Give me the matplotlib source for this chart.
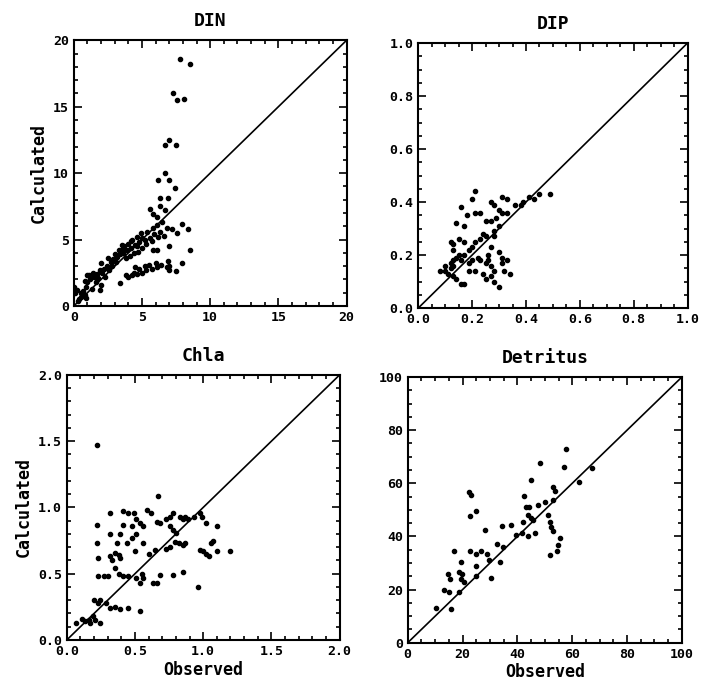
import numpy as np
import matplotlib
matplotlib.use("Agg")
import matplotlib.pyplot as plt
from matplotlib.ticker import MultipleLocator

# DIN: observed / calculated
din_obs = [7.8, 8.5, 7.3, 7.6, 8.1, 7.0, 6.7, 7.5, 6.7, 6.2, 7.0, 7.4, 6.3, 6.9, 5.6, 6.3, 6.7,
           5.8, 6.1, 7.9, 8.4, 7.6, 8.5, 7.0, 5.8, 6.1,
           6.8, 7.2, 6.3, 5.9, 5.6, 5.2, 4.8, 4.5, 4.2, 3.9, 3.6, 3.4, 3.2, 2.9, 2.7, 2.4, 2.2,
           1.9, 1.7, 1.5, 1.2, 1.0, 0.9, 0.7, 0.5, 0.3,
           4.6, 4.9, 4.3, 4.0, 3.7, 4.7, 5.0, 5.4, 5.8, 6.1, 6.5, 3.5, 3.3, 3.0, 2.5, 2.0, 2.1,
           1.8, 1.6, 1.4, 1.1, 2.3, 2.6, 3.8, 4.1, 4.4, 5.3, 5.7, 6.2, 6.6, 2.0, 1.9, 1.3, 0.8,
           1.0, 2.8, 3.1, 4.6, 5.0, 4.2, 3.6,
           3.4, 4.0, 4.3, 4.6, 5.0, 5.3, 5.7, 6.1, 6.4, 6.8, 7.0, 7.5, 7.9, 7.0, 5.5, 4.8, 4.4,
           3.8, 6.9, 6.0, 5.2, 4.5,
           0.0, 0.2, 0.5, 0.8, 0.9, 0.4, 0.1, 0.6]
din_calc = [18.6, 18.2, 16.0, 15.5, 15.6, 12.5, 12.1, 12.1, 10.0, 9.5, 9.5, 8.9, 8.1, 8.1, 7.3, 7.5, 7.2,
            6.9, 6.7, 6.2, 5.8, 5.5, 4.2, 4.5, 4.2, 4.2,
            5.9, 5.8, 5.6, 5.4, 5.1, 5.0, 4.8, 4.6, 4.4, 4.2, 4.0, 3.9, 3.7, 3.5, 3.3, 3.0, 2.8,
            2.7, 2.4, 2.2, 2.0, 1.8, 1.4, 1.1, 0.7, 0.4,
            5.2, 5.5, 5.0, 4.7, 4.5, 4.1, 4.4, 5.6, 5.9, 6.1, 6.3, 4.6, 4.2, 3.9, 3.6, 3.2, 2.5,
            2.1, 1.8, 2.5, 2.3, 2.2, 2.7, 3.6, 3.8, 4.0, 4.7, 4.9, 5.2, 5.3, 1.6, 1.2, 1.3, 1.9,
            2.3, 3.0, 3.3, 4.5, 5.1, 4.9, 4.3,
            1.7, 2.2, 2.3, 2.4, 2.5, 2.7, 2.8, 2.9, 3.1, 2.9, 2.7, 2.6, 3.2, 3.0, 3.1, 2.8, 2.5,
            2.3, 3.4, 3.2, 3.0, 2.9,
            1.4, 1.2, 1.0, 0.8, 0.6, 0.5, 1.0, 0.9]

# DIP
dip_obs = [0.21, 0.20, 0.16, 0.18, 0.21, 0.14, 0.17, 0.23, 0.27, 0.28, 0.31, 0.33, 0.25, 0.27,
           0.29, 0.28, 0.28, 0.30, 0.31, 0.33, 0.36, 0.38, 0.39, 0.41, 0.43, 0.45, 0.49, 0.30,
           0.12, 0.13, 0.13, 0.15, 0.17, 0.19, 0.20, 0.21, 0.23, 0.24, 0.25,
           0.08, 0.10, 0.12, 0.13, 0.10, 0.12, 0.13, 0.14, 0.16, 0.17,
           0.13, 0.14, 0.16, 0.17, 0.19, 0.20, 0.21, 0.23, 0.25, 0.26, 0.27,
           0.24, 0.25, 0.27, 0.28, 0.30, 0.27, 0.30, 0.31, 0.31, 0.32, 0.33, 0.34, 0.28, 0.19,
           0.15, 0.11, 0.22, 0.26]
dip_calc = [0.44, 0.41, 0.38, 0.35, 0.36, 0.32, 0.31, 0.36, 0.40, 0.39, 0.42, 0.41, 0.33, 0.33,
            0.34, 0.29, 0.27, 0.31, 0.36, 0.36, 0.39, 0.39, 0.40, 0.42, 0.41, 0.43, 0.43, 0.37,
            0.25, 0.22, 0.24, 0.26, 0.25, 0.22, 0.23, 0.25, 0.26, 0.28, 0.27,
            0.14, 0.16, 0.17, 0.18, 0.14, 0.15, 0.16, 0.19, 0.18, 0.20,
            0.12, 0.11, 0.09, 0.09, 0.17, 0.18, 0.14, 0.18, 0.17, 0.18, 0.16,
            0.13, 0.11, 0.12, 0.10, 0.08, 0.23, 0.21, 0.19, 0.17, 0.14, 0.18, 0.13, 0.14, 0.14,
            0.20, 0.13, 0.19, 0.20]

# Chla
chla_obs = [0.22, 0.67, 0.22, 0.32, 0.41, 0.45, 0.49, 0.51, 0.54, 0.56, 0.48, 0.59, 0.62, 0.66, 0.68,
            0.22, 0.32, 0.37, 0.39, 0.41, 0.44, 0.48, 0.51,
            0.23, 0.32, 0.33, 0.35, 0.38, 0.39, 0.50, 0.56, 0.60, 0.65,
            0.73, 0.76, 0.78, 0.76, 0.78, 0.80, 0.83, 0.85, 0.87, 0.89, 0.93, 0.98, 0.99, 1.02, 1.10,
            0.73, 0.76, 0.79, 0.82, 0.85, 0.87, 0.98, 1.00, 1.02, 1.04, 1.06, 1.07, 1.10, 1.20, 0.96,
            0.23, 0.27, 0.30, 0.35, 0.38, 0.41, 0.45, 0.51, 0.55, 0.56, 0.54, 0.63, 0.66, 0.68, 0.78, 0.85,
            0.20, 0.23, 0.24, 0.29, 0.32, 0.35, 0.39, 0.45, 0.54,
            0.07, 0.11, 0.13, 0.16, 0.17, 0.21, 0.24, 0.19]
chla_calc = [1.47, 1.09, 0.87, 0.96, 0.97, 0.96, 0.96, 0.91, 0.88, 0.86, 0.86, 0.98, 0.96, 0.89, 0.88,
             0.73, 0.80, 0.73, 0.80, 0.87, 0.73, 0.77, 0.80,
             0.62, 0.63, 0.60, 0.66, 0.64, 0.62, 0.67, 0.73, 0.65, 0.68,
             0.91, 0.93, 0.96, 0.86, 0.83, 0.81, 0.93, 0.91, 0.93, 0.91, 0.93, 0.96, 0.93, 0.88, 0.86,
             0.69, 0.70, 0.74, 0.73, 0.72, 0.73, 0.68, 0.67, 0.65, 0.63, 0.73, 0.75, 0.67, 0.67, 0.40,
             0.48, 0.48, 0.48, 0.54, 0.50, 0.48, 0.48, 0.47, 0.50, 0.47, 0.43, 0.43, 0.43, 0.49, 0.49, 0.51,
             0.30, 0.28, 0.30, 0.28, 0.24, 0.25, 0.23, 0.24, 0.22,
             0.13, 0.16, 0.14, 0.15, 0.13, 0.15, 0.13, 0.18]

# Detritus
det_obs = [10.4, 15.9, 13.4, 15.2, 14.6, 15.5, 16.7, 18.7, 19.9, 19.5, 19.5, 20.4, 18.7, 22.6, 22.6,
           22.3, 23.2, 25.0, 25.0, 25.0, 25.0, 26.8, 28.3, 28.9, 29.6, 30.5, 32.7, 33.5, 34.4, 34.8,
           37.8, 39.6, 41.5, 42.1, 42.4, 43.3, 44.3, 43.9, 43.9, 44.8, 45.1, 45.7, 46.3, 47.6, 48.4,
           50.0, 51.2, 51.8, 52.1, 52.8, 51.8, 53.0, 53.7, 53.0, 54.3, 54.9, 55.5, 57.1, 57.9, 62.6,
           67.1]
det_calc = [13.1, 12.5, 20.0, 19.0, 26.0, 24.0, 34.4, 26.5, 26.0, 30.2, 24.0, 22.7, 19.0, 34.4, 47.7,
            56.9, 55.6, 49.4, 33.5, 29.0, 25.2, 34.7, 42.5, 33.5, 31.2, 24.4, 37.2, 30.2, 44.0, 36.0,
            44.4, 40.6, 41.2, 45.6, 55.2, 51.0, 51.0, 47.9, 40.0, 61.2, 47.0, 46.0, 41.2, 51.9, 67.8,
            53.1, 48.1, 45.6, 43.7, 42.0, 33.1, 58.5, 57.2, 53.7, 34.4, 36.9, 39.4, 66.0, 72.8, 60.6,
            65.6]

panels = [
    ("DIN", din_obs, din_calc, 20, 5, 1, "%d", [0.105, 0.552, 0.388, 0.389]),
    ("DIP", dip_obs, dip_calc, 1.0, 0.2, 0.05, "%.1f", [0.595, 0.549, 0.383, 0.388]),
    ("Chla", chla_obs, chla_calc, 2.0, 0.5, 0.1, "%.1f", [0.095, 0.063, 0.388, 0.388]),
    ("Detritus", det_obs, det_calc, 100, 20, 5, "%d", [0.580, 0.059, 0.390, 0.389]),
]

font = "DejaVu Sans Mono"
fig = plt.figure(figsize=(7.03, 6.83), dpi=100)

for i, (name, obs, calc, top, major, minor, fmt, pos) in enumerate(panels):
    ax = fig.add_axes(pos)
    ax.plot([0, top], [0, top], color="black", lw=1.2)
    ax.scatter(obs, calc, s=9, color="black", zorder=3)
    ax.set_xlim(0, top)
    ax.set_ylim(0, top)
    for axis in (ax.xaxis, ax.yaxis):
        axis.set_major_locator(MultipleLocator(major))
        axis.set_minor_locator(MultipleLocator(minor))
        axis.set_major_formatter(plt.FormatStrFormatter(fmt))
    ax.tick_params(which="both", direction="in", top=True, right=True, width=1.2)
    ax.tick_params(which="major", length=6)
    ax.tick_params(which="minor", length=3)
    for lab in ax.get_xticklabels() + ax.get_yticklabels():
        lab.set_fontfamily(font)
        lab.set_fontweight("bold")
        lab.set_fontsize(9.5)
    for sp in ax.spines.values():
        sp.set_linewidth(1.5)
    ax.set_title(name, fontsize=13, fontweight="bold", family=font, pad=10)
    if i % 2 == 0:
        ax.set_ylabel("Calculated", fontsize=12, fontweight="bold", family=font)
    if i >= 2:
        ax.set_xlabel("Observed", fontsize=12, fontweight="bold", family=font, labelpad=2)

fig.savefig("out.png", dpi=100)
